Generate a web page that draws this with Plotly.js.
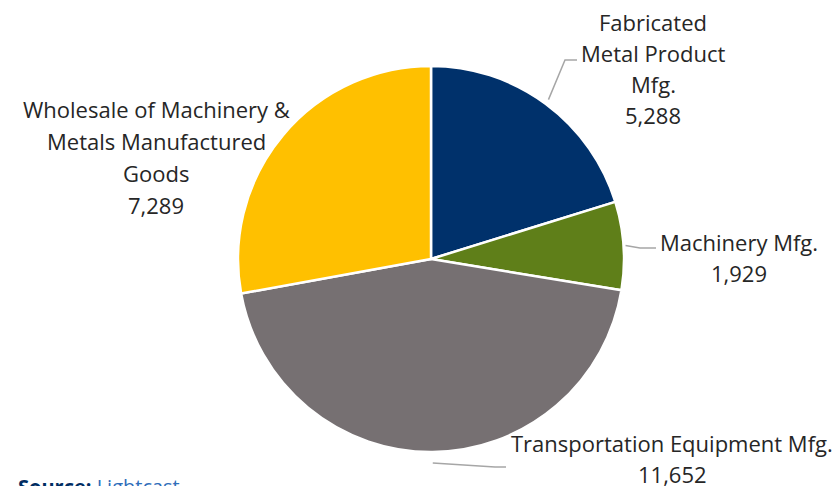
<!DOCTYPE html>
<html>
<head>
<meta charset="utf-8">
<script src="https://cdn.plot.ly/plotly-3.0.1.min.js"></script>
<style>html,body{margin:0;padding:0;background:#fff;}#chart{width:836px;height:486px;}</style>
</head>
<body>
<div id="chart"></div>
<script>
// ---- data ----
const categories = ["Fabricated Metal Product Mfg.", "Machinery Mfg.", "Transportation Equipment Mfg.", "Wholesale of Machinery & Metals Manufactured Goods"];
const labelLines = [["Fabricated", "Metal Product", "Mfg."], ["Machinery Mfg."], ["Transportation Equipment Mfg."], ["Wholesale of Machinery &", "Metals Manufactured", "Goods"]];
const employment = [5288, 1929, 11652, 7289];
const sliceColors = ["#00316B", "#5F7F19", "#767072", "#FFC000"];
const titleTail = "(2023)";
const sourceLabel = "Source:";
const sourceName = "Lightcast";

// ---- layout helpers ----
const W = 836, H = 486;
const cx = 431, cy = 259, R = 193;
const px = x => x / W;
const py = y => 1 - y / H;

// label placement (pixels): centre x, first line y, line step, leader elbow points
const labelPos = [
  {x: 653, y: 22, step: 31, leader: {r: 198, pts: [[565, 60], [577, 60]]}},
  {x: 739, y: 242, step: 31, leader: {r: 195, pts: [[640, 248], [656, 248]]}},
  {x: 672, y: 443, step: 31, leader: {r: 204, pts: [[495, 467], [506, 467]]}},
  {x: 156, y: 109, step: 32, leader: null}
];

const total = employment.reduce((a, b) => a + b, 0);
const fontFam = "'Open Sans', 'Noto Sans', sans-serif";
const txtColor = "#262626";

const annotations = [];
const shapes = [];
let cum = 0;
employment.forEach((v, i) => {
  const mid = (cum + v / 2) / total * 2 * Math.PI; // clockwise from 12 o'clock
  cum += v;
  const p = labelPos[i];
  const lines = labelLines[i].concat([v.toLocaleString("en-US")]);
  lines.forEach((t, k) => {
    annotations.push({
      text: t, xref: "paper", yref: "paper",
      x: px(p.x), y: py(p.y + k * p.step),
      xanchor: "center", yanchor: "middle", showarrow: false,
      font: {family: fontFam, size: 22, color: txtColor}
    });
  });
  if (p.leader) {
    const sx = cx + p.leader.r * Math.sin(mid);
    const sy = cy - p.leader.r * Math.cos(mid);
    let d = "M " + px(sx) + "," + py(sy);
    p.leader.pts.forEach(q => { d += " L " + px(q[0]) + "," + py(q[1]); });
    shapes.push({type: "path", xref: "paper", yref: "paper", path: d,
      line: {color: "#A6A6A6", width: 1.5}});
  }
});

annotations.push({
  text: "<b>" + titleTail + "</b>", xref: "paper", yref: "paper",
  x: px(219), y: py(-12), xanchor: "left", yanchor: "middle", showarrow: false,
  font: {family: fontFam, size: 21, color: "#003A70"}
});
annotations.push({
  text: "<b>" + sourceLabel + "</b> <span style='color:#2F6EBA'>" + sourceName + "</span>",
  xref: "paper", yref: "paper",
  x: px(16), y: py(487), xanchor: "left", yanchor: "middle", showarrow: false,
  font: {family: fontFam, size: 20, color: "#002D62"}
});

const trace = {
  type: "pie",
  labels: categories,
  values: employment,
  sort: false,
  direction: "clockwise",
  rotation: 0,
  textinfo: "none",
  hoverinfo: "label+value",
  marker: {colors: sliceColors, line: {color: "#FFFFFF", width: 2.5}},
  domain: {x: [px(cx - R), px(cx + R)], y: [py(cy + R), py(cy - R)]},
  showlegend: false
};

const layout = {
  width: W, height: H,
  margin: {l: 0, r: 0, t: 0, b: 0},
  paper_bgcolor: "#FFFFFF",
  annotations: annotations,
  shapes: shapes,
  showlegend: false
};

Plotly.newPlot("chart", [trace], layout, {displayModeBar: false, staticPlot: true});
</script>
</body>
</html>
